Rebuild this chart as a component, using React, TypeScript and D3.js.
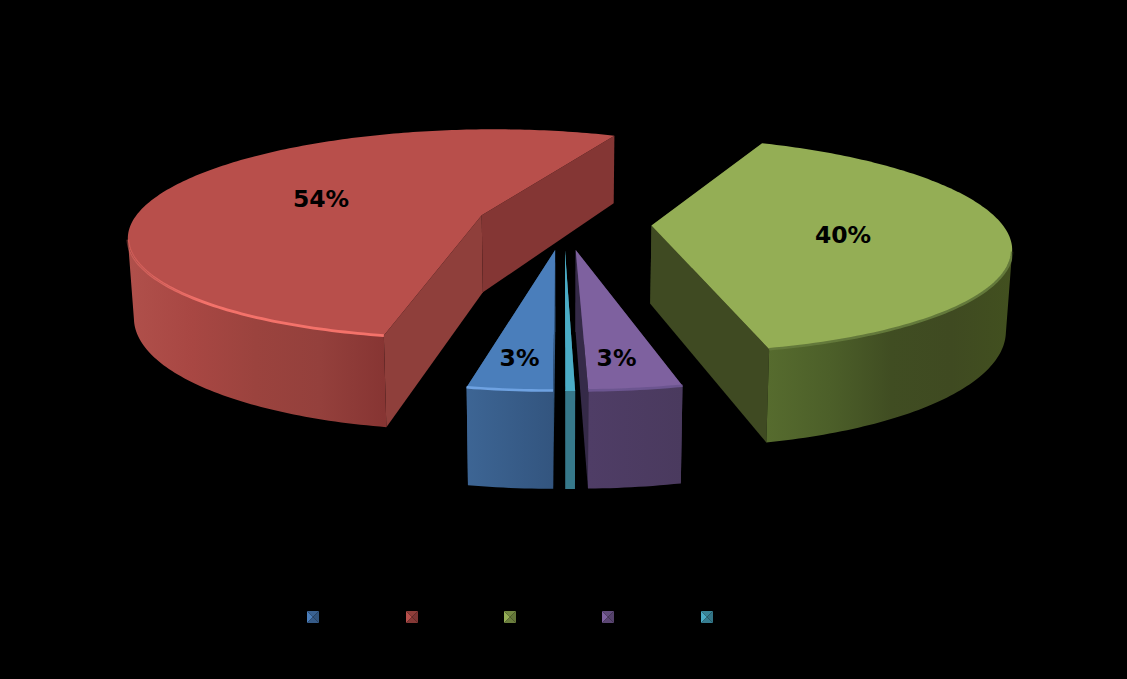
import React from "react";
import * as d3 from "d3";

// ---- data ----
const categories = ["A", "B", "C", "D", "E"];
const values = [3.1, 53.9, 39.8, 3.4, 0.35];
const labels = ["3%", "54%", "40%", "3%", ""];

// ---- styling ----
const topColors = ["#4A7EBB", "#B84F4B", "#94AE55", "#7E619F", "#4BACC6"];
const cutColors = [
  ["#335a85", "#335a85"],
  ["#8F3F3B", "#843634"],
  ["#3F4A22", "#3F4A22"],
  ["#4b3a62", "#352A48"],
  ["#36788A", "#36788A"],
];
const wallStops = [
  ["#3D6594", "#33557F"],
  ["#B0504B", "#A84743", "#9B433E", "#94403C", "#873533"],
  ["#566B2E", "#4C5F29", "#404D22", "#3F4A21", "#42501F"],
  ["#4F3D66", "#4A3A5E"],
  ["#36788A", "#36788A"],
];
const rimColors = ["#6EA2E2", "#F4726B", "#64793A", "#6C5590", "#4BACC6"];
const legendX = [313, 412, 510, 608, 707];
const legendY = 617;
const labelPos: [number, number][] = [[519.5, 358], [321, 199], [843, 235], [616.5, 358], [0, 0]];

// ---- camera of the tilted disc ----
const W = 1127, H = 679;
const CX = 564, CY = 223, A = 350, B = 104, K = 0.18, EXPLODE = 0.25, DEPTH = 78, SHRINK = 0.986;

const project = (u: number, v: number, level: number): [number, number] => {
  const w = 1 - K * v;
  const s = level ? SHRINK : 1;
  return [CX + (s * A * u) / w, CY + (s * B * v + level * DEPTH) / w];
};
const line = d3.line();
const arcs = d3.pie<number>().sort(null).startAngle(0).endAngle(2 * Math.PI)(values);

export default function App() {
  const slices = arcs.map((a, i) => {
    const mid = (a.startAngle + a.endAngle) / 2;
    const ox = -Math.sin(mid) * EXPLODE, oy = Math.cos(mid) * EXPLODE;
    const n = Math.max(4, Math.ceil((a.endAngle - a.startAngle) * 60));
    const ts = d3.range(n + 1).map((k) => a.startAngle + ((a.endAngle - a.startAngle) * k) / n);
    const rim = (t: number, lvl: number) => project(ox - Math.sin(t), oy + Math.cos(t), lvl);
    const apex = (lvl: number) => project(ox, oy, lvl);
    const facing = ts.filter((t) => {
      const nx = -Math.sin(t), ny = Math.cos(t);
      const px = ox + nx, py = oy + ny;
      return nx * (0 - px) + ny * (1 / K - py) > 0;
    });
    const top = line([apex(0), ...ts.map((t) => rim(t, 0))])! + "Z";
    const front = facing.length > 1
      ? line([...facing.map((t) => rim(t, 0)), ...facing.slice().reverse().map((t) => rim(t, 1))])! + "Z"
      : "";
    const rimLine = facing.length > 1 ? line(facing.map((t) => rim(t, 0)))! : "";
    const cut = (t: number) => line([apex(0), rim(t, 0), rim(t, 1), apex(1)])! + "Z";
    const xs = facing.map((t) => rim(t, 0)[0]);
    return {
      i, top, front, rimLine,
      cutA: cut(a.startAngle), cutB: cut(a.endAngle),
      x0: d3.min(xs) ?? 0, x1: d3.max(xs) ?? 1,
    };
  });

  return (
    <svg width={W} height={H} viewBox={`0 0 ${W} ${H}`}
      style={{ position: "fixed", left: 0, top: 0, display: "block", background: "#000" }}>
      <defs>
        <filter id="soft" x="-5%" y="-20%" width="110%" height="140%"><feGaussianBlur stdDeviation="0.7" /></filter>
        {slices.map((s) => (
          <linearGradient key={s.i} id={`wall${s.i}`} gradientUnits="userSpaceOnUse" x1={s.x0} x2={s.x1} y1={0} y2={0}>
            {wallStops[s.i].map((c, k, arr) => (
              <stop key={k} offset={k / (arr.length - 1)} stopColor={c} />
            ))}
          </linearGradient>
        ))}
        {slices.map((s) => (
          <linearGradient key={s.i} id={`rim${s.i}`} gradientUnits="userSpaceOnUse" x1={s.x0} x2={s.x1} y1={0} y2={0}>
            <stop offset={0} stopColor={rimColors[s.i]} stopOpacity={s.i === 1 ? 0.35 : 1} />
            <stop offset={s.i === 1 ? 0.3 : 1} stopColor={rimColors[s.i]} stopOpacity={1} />
            <stop offset={1} stopColor={rimColors[s.i]} stopOpacity={s.i === 2 ? 0.3 : 1} />
          </linearGradient>
        ))}
      </defs>
      {slices.map((s) => (
        <g key={categories[s.i]}>
          <path d={s.cutA} fill={cutColors[s.i][0]} />
          <path d={s.cutB} fill={cutColors[s.i][1]} />
          {s.front && <path d={s.front} fill={`url(#wall${s.i})`} />}
          <path d={s.top} fill={topColors[s.i]} />
          {s.rimLine && (
            <path d={s.rimLine} fill="none" stroke={`url(#rim${s.i})`} strokeWidth={s.i === 1 ? 2.8 : 2.6} filter="url(#soft)" />
          )}
        </g>
      ))}
      {labels.map((t, i) => t && (
        <text key={i} x={labelPos[i][0]} y={labelPos[i][1]} dy="0.33em" textAnchor="middle"
          fontFamily="'DejaVu Sans'" fontWeight="bold" fontSize={23.5} fill="#000">{t}</text>
      ))}
      {legendX.map((x, i) => {
        const r = 6;
        const tl: [number, number] = [x - r, legendY - r], tr: [number, number] = [x + r, legendY - r];
        const bl: [number, number] = [x - r, legendY + r], br: [number, number] = [x + r, legendY + r];
        const c: [number, number] = [x, legendY];
        const base = d3.color(topColors[i])!;
        return (
          <g key={i}>
            <path d={line([tl, c, bl])! + "Z"} fill={base.formatHex()} />
            <path d={line([tl, tr, c])! + "Z"} fill={base.darker(0.7).formatHex()} />
            <path d={line([tr, br, c])! + "Z"} fill={base.darker(1.1).formatHex()} />
            <path d={line([bl, br, c])! + "Z"} fill={base.darker(0.9).formatHex()} />
          </g>
        );
      })}
    </svg>
  );
}
